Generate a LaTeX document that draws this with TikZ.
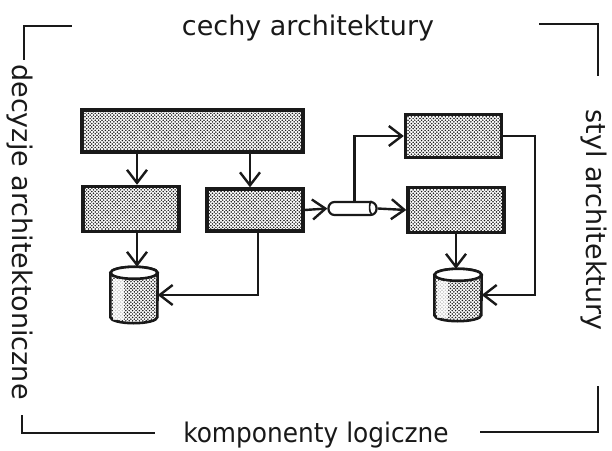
\documentclass[tikz,border=0pt]{standalone}
\usepackage{fontspec}
\setmainfont{DejaVu Sans}
\newfontfamily\narrowfont[FakeStretch=0.92]{DejaVu Sans}
\usepackage{tikz}
\usetikzlibrary{arrows.meta,positioning,patterns,shapes.geometric}
\definecolor{inkcolor}{RGB}{25,25,25}

% dense dot fill used by all boxes
\pgfdeclarepatternformonly{densedots}{\pgfqpoint{-1pt}{-1pt}}{\pgfqpoint{3pt}{3pt}}{\pgfqpoint{3.4pt}{3.4pt}}{%
  \pgfpathcircle{\pgfqpoint{0pt}{0pt}}{0.85pt}
  \pgfpathcircle{\pgfqpoint{1.7pt}{1.7pt}}{0.85pt}
  \pgfusepath{fill}}

\tikzset{
  block/.style={draw=inkcolor, line width=3.4pt, pattern=densedots, pattern color=inkcolor,
    minimum width=96pt, minimum height=43pt, inner sep=0pt},
  storebox/.style={minimum width=47pt, minimum height=56pt, inner sep=0pt},
  dbline/.style={draw=inkcolor, line width=2.6pt},
  pipe/.style={draw=inkcolor, line width=2.2pt, fill=white, rounded corners=6pt,
    minimum width=48pt, minimum height=13pt, inner sep=0pt},
  link/.style={draw=inkcolor, line width=2.4pt, -{Straight Barb[length=13pt,width=20pt,line width=2.4pt]}},
  frame/.style={draw=inkcolor, line width=1.8pt},
  caption/.style={font=\fontsize{27}{29}\selectfont, text=inkcolor}
}

\begin{document}
\begin{tikzpicture}[x=1pt, y=1pt]
        \useasboundingbox (0,0) rectangle (612,450);

        % corner brackets
        \draw[frame] (24,390) -- (24,424) -- (72,424);
        \draw[frame] (539,426) -- (598,426) -- (598,374);
        \draw[frame] (22,35) -- (22,17) -- (155,17);
        \draw[frame] (480,18) -- (598,18) -- (598,64);

        % side texts
        \node[caption] (cechy) at (308,422) {cechy architektury};
        \node[caption, font=\narrowfont\fontsize{27}{29}\selectfont] (komp) at (316,15) {komponenty logiczne};
        \node[caption, rotate=-90] (decyzje) at (20,218) {decyzje architektoniczne};
        \node[caption, rotate=-90] (styl) at (594,230) {styl architektury};

        % left group
        \node[block, minimum width=221pt, minimum height=42pt] (top) at (192.5,319) {};
        \node[block, minimum height=45pt] (left) at (131,241) {};
        \node[block, minimum height=42pt] (mid) at (255,240) {};
        \node[storebox] (dbl) at (134,155) {};

        % right group
        \node[block] (upr) at (453.5,314) {};
        \node[block, minimum height=45pt] (lowr) at (456,240) {};
        \node[storebox, minimum height=52pt] (dbr) at (458,155) {};

        % queue between the groups
        \node[pipe] (queue) at (352.5,241.5) {};
        \draw[inkcolor, line width=1.6pt] ([xshift=-6pt]queue.north east) arc[start angle=90, end angle=270, x radius=2pt, y radius=6.5pt];

        % databases: dotted body, pale side band, white lid
        \foreach \db in {dbl,dbr} {
          \draw[dbline, pattern=densedots, pattern color=inkcolor]
            ([yshift=-6pt]\db.north west) -- ([yshift=6pt]\db.south west)
            arc[start angle=180, end angle=360, x radius=23.5pt, y radius=6pt]
            -- ([yshift=-6pt]\db.north east)
            arc[start angle=0, end angle=180, x radius=23.5pt, y radius=6pt] -- cycle;
          \fill[white, opacity=0.75] ([xshift=3pt,yshift=-12pt]\db.north west) rectangle ([xshift=14pt,yshift=3pt]\db.south west);
          \draw[dbline, fill=white] ([yshift=-6pt]\db.north) ellipse[x radius=23.5pt, y radius=6pt];
        }

        % connectors
        \draw[link] ([xshift=6pt]left.north |- top.south) -- ([xshift=6pt]left.north);
        \draw[link] ([xshift=-5pt]mid.north |- top.south) -- ([xshift=-5pt]mid.north);
        \draw[link] ([xshift=6pt]left.south) -- ([xshift=6pt]left.south |- dbl.north);
        \draw[link] ([xshift=3pt]mid.south) |- (dbl.east);
        \draw[link] (mid.east) -- (queue.west);
        \draw[link] (queue.east) -- (lowr.west);
        \draw[link] ([xshift=2pt]queue.north) |- (upr.west);
        \draw[link] (upr.east) -- ++(32,0) |- (dbr.east);
        \draw[link] (lowr.south) -- (lowr.south |- dbr.north);
      \end{tikzpicture}
\end{document}
